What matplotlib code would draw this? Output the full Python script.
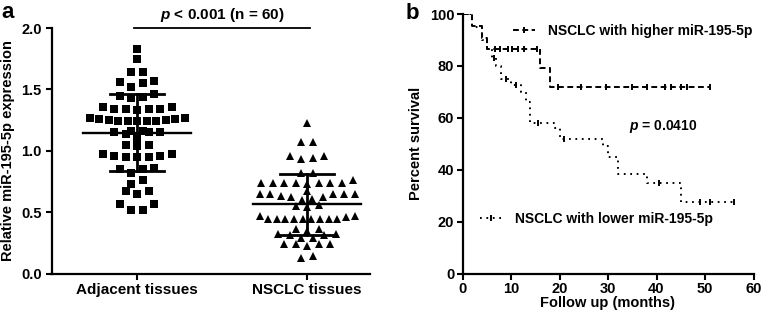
import numpy as np
import matplotlib
matplotlib.use('Agg')
import matplotlib.pyplot as plt
from matplotlib.lines import Line2D
from matplotlib.ticker import FormatStrFormatter

plt.rcParams['font.family'] = ['Liberation Sans', 'DejaVu Sans']
plt.rcParams['font.weight'] = 'bold'
plt.rcParams['axes.labelweight'] = 'bold'
plt.rcParams['font.size'] = 10
plt.rcParams['mathtext.fontset'] = 'custom'
plt.rcParams['mathtext.it'] = 'Liberation Sans:italic:bold'
plt.rcParams['mathtext.rm'] = 'Liberation Sans:bold'

# ---- panel a data: relative miR-195-5p expression (n = 60 each)
groups = ['Adjacent tissues', 'NSCLC tissues']
adjacent = [1.83, 1.75, 1.64, 1.64, 1.57, 1.55, 1.56, 1.52, 1.45, 1.43, 1.44, 1.46,
            1.36, 1.34, 1.34, 1.36, 1.34, 1.33, 1.34,
            1.27, 1.26, 1.25, 1.24, 1.24, 1.24, 1.24, 1.24, 1.25, 1.26, 1.27,
            1.16, 1.15, 1.15, 1.14, 1.15, 1.16, 1.10,
            1.05, 1.05, 1.04,
            0.97, 0.96, 0.95, 0.95, 0.95, 0.96, 0.97,
            0.86, 0.85, 0.82, 0.85,
            0.76, 0.73, 0.67, 0.67, 0.65,
            0.57, 0.57, 0.52, 0.52]
nsclc = [1.23, 1.07, 1.07, 0.96, 0.93, 0.94, 0.96, 0.82, 0.82,
         0.74, 0.74, 0.74, 0.74, 0.73, 0.74, 0.74, 0.74, 0.76,
         0.67,
         0.65, 0.65, 0.61, 0.62, 0.63, 0.60, 0.62, 0.65, 0.65, 0.65,
         0.55, 0.56, 0.54,
         0.47, 0.46, 0.47,
         0.44, 0.44, 0.44, 0.44, 0.44, 0.44, 0.44, 0.44, 0.44,
         0.36, 0.35, 0.36,
         0.29, 0.31, 0.32, 0.32, 0.29, 0.31,
         0.24, 0.24, 0.22, 0.24, 0.24,
         0.13, 0.14]

# ---- panel b data: Kaplan-Meier steps (months, percent survival)
high_times = [0, 2, 4, 5, 16, 18]
high_surv = [100, 95.5, 90.9, 86.4, 79.2, 72.0]
high_end = 51
high_censor = [6.8, 7.7, 9.3, 10.3, 11.4, 12.7, 15.3,
               19.6, 24.5, 29.6, 35, 38, 41.7, 43, 45.1, 46.2, 51]
low_times = [0, 2, 4, 5, 6, 7, 8, 10, 12, 13, 14, 19, 20, 29, 30, 32, 38, 45]
low_surv = [100, 95, 90, 86, 83, 80, 75, 72.5, 70, 66, 58, 56, 52, 49, 45, 38.5, 35, 27.5]
low_end = 56
low_censor = [6.5, 9, 11, 15.5, 21, 40.5, 49, 51, 56]
high_label = 'NSCLC with higher miR-195-5p'
low_label = 'NSCLC with lower miR-195-5p'


def row_offsets(vals, step, max_span, tol):
    """GraphPad-like scatter: values close together share a row, spread around the centre."""
    vals = np.asarray(vals)
    order = np.argsort(vals, kind='stable')
    offs = np.zeros(len(vals))
    i = 0
    while i < len(order):
        j = i
        while j + 1 < len(order) and vals[order[j + 1]] - vals[order[i]] < tol:
            j += 1
        idx = order[i:j + 1]
        n = len(idx)
        s = step if n < 2 else min(step, max_span / (n - 1))
        slots = (np.arange(n) - (n - 1) / 2) * s
        slots = slots[np.argsort(np.abs(slots) + 1e-6 * slots, kind='stable')]
        offs[idx] = slots
        i = j + 1
    return offs


def km_value(times, surv, t):
    k = np.searchsorted(times, t, side='right') - 1
    return np.asarray(surv)[k]


W, H = 762, 318
fig = plt.figure(figsize=(W / 100, H / 100), dpi=100)

# ================= panel a =================
ax = fig.add_axes([51.5 / W, 1 - 273.5 / H, (370 - 51.5) / W, (273.5 - 28) / H])
xmin, xmax = -0.503, 1.37
ax.set_xlim(xmin, xmax)
ax.set_ylim(0, 2.0)
px_x = (370 - 51.5) / (xmax - xmin)
px_y = (273.5 - 28) / 2.0

for pos, vals, mk, ms in [(0, adjacent, 's', 5.6), (1, nsclc, '^', 6.3)]:
    vals = np.array(vals)
    off = row_offsets(vals, 11.5 / px_x, 95 / px_x, 7.0 / px_y)
    ax.plot(pos + off, vals, ls='none', marker=mk, ms=ms, mew=0, color='black', zorder=3)
    m, sd = vals.mean(), vals.std(ddof=1)
    ax.plot([pos - 0.32, pos + 0.32], [m, m], color='black', lw=1.7, zorder=4)
    ax.plot([pos - 0.16, pos + 0.16], [m - sd, m - sd], color='black', lw=2.0, zorder=4)
    ax.plot([pos - 0.16, pos + 0.16], [m + sd, m + sd], color='black', lw=2.0, zorder=4)
    ax.plot([pos, pos], [m - sd, m + sd], color='black', lw=2.0, zorder=4)

ax.plot([-0.02, 1.02], [2.0, 2.0], color='black', lw=1.3, clip_on=False)
ax.annotate('$p$ < 0.001 (n = 60)', xy=(0.5, 2.0), xytext=(0, 3), textcoords='offset points',
            ha='center', va='bottom', fontsize=11)

ax.set_xticks([0, 1])
ax.set_xticklabels(groups, fontsize=11)
ax.set_yticks(np.arange(0, 2.01, 0.5))
ax.yaxis.set_major_formatter(FormatStrFormatter('%.1f'))
ax.set_ylabel('Relative miR-195-5p expression', fontsize=10.5)
ax.yaxis.set_label_coords(-0.115, 0.5)
for sp in ['top', 'right']:
    ax.spines[sp].set_visible(False)
for sp in ['left', 'bottom']:
    ax.spines[sp].set_linewidth(1.6)
ax.tick_params(width=1.5, length=4, labelsize=10.5, pad=3)
ax.tick_params(axis='x', labelsize=11)

# ================= panel b =================
bx = fig.add_axes([462.5 / W, 1 - 273.5 / H, (753.5 - 462.5) / W, (273.5 - 14) / H])
bx.set_xlim(0, 60)
bx.set_ylim(0, 100)

curves = [(high_times, high_surv, high_end, high_censor, (0, (3, 1.8)), high_label),
          (low_times, low_surv, low_end, low_censor, (0, (0.9, 2.4)), low_label)]
handles = []
for times, surv, end, cens, ls, lab in curves:
    tt = np.append(times, end)
    ss = np.append(surv, surv[-1])
    bx.step(tt, ss, where='post', color='black', lw=1.4, ls=ls)
    bx.plot(cens, km_value(times, surv, cens), ls='none', marker='|', ms=4.5,
            mew=1.4, color='black')
    handles.append(Line2D([], [], color='black', lw=1.4, ls=ls, marker='|', ms=4.5, mew=1.4))

leg_kw = dict(frameon=False, borderpad=0, borderaxespad=0, handlelength=1.6,
              handletextpad=0.9, numpoints=1, fontsize=10, loc='center left')
leg1 = bx.legend([handles[0]], [high_label], bbox_to_anchor=(0.174, 0.934), **leg_kw)
bx.add_artist(leg1)
bx.legend([handles[1]], [low_label], bbox_to_anchor=(0.060, 0.21), **leg_kw)

bx.text(41.3, 56.5, '$p$ = 0.0410', ha='center', va='center', fontsize=10)

bx.set_xticks(np.arange(0, 61, 10))
bx.set_yticks(np.arange(0, 101, 20))
bx.set_xlabel('Follow up (months)', fontsize=10.5)
bx.set_ylabel('Percent survival', fontsize=10.5)
bx.xaxis.set_label_coords(0.5, -0.087)
bx.yaxis.set_label_coords(-0.136, 0.5)
for sp in ['top', 'right']:
    bx.spines[sp].set_visible(False)
for sp in ['left', 'bottom']:
    bx.spines[sp].set_linewidth(1.6)
bx.tick_params(width=1.5, length=4, labelsize=10.5, pad=2)

fig.text(1 / W, 1 - 18 / H, 'a', fontsize=16, fontweight='bold', va='baseline')
fig.text(406 / W, 1 - 19 / H, 'b', fontsize=16, fontweight='bold', va='baseline')

fig.savefig('out.png', dpi=100)
